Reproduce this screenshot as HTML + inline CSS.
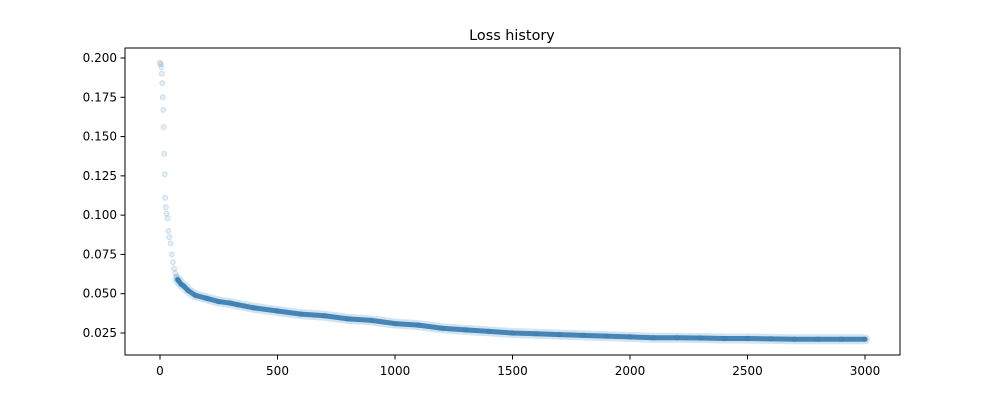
<!DOCTYPE html>
<html><head><meta charset="utf-8"><style>
body{margin:0;background:#fff;font-family:"Liberation Sans","DejaVu Sans",sans-serif}
text{font-family:"DejaVu Sans","Liberation Sans",sans-serif;font-size:12px;fill:#000}
</style></head><body>
<svg id="chart" width="1000" height="400" viewBox="0 0 1000 400" xmlns="http://www.w3.org/2000/svg">
<rect width="1000" height="400" fill="#fff"/>
<text x="512" y="40" text-anchor="middle" style="font-size:14.4px">Loss history</text>
<g id="marks"></g>
<g id="axes"></g>
<rect x="125" y="48" width="775" height="307" fill="none" stroke="#000" stroke-width="1"/>
</svg>
<script>
const iterations=[0,3,6,8,10,12,14,16,18,20,22,25,28,32,36,40,45,50,55,60,65,70,75,80,90,100,120,150,200,250,300,330,400,500,600,700,800,900,1000,1100,1200,1300,1400,1500,1600,1700,1800,1900,2000,2100,2200,2300,2400,2500,2600,2700,2800,2900,3000];
const losses=[0.197,0.196,0.194,0.190,0.184,0.175,0.167,0.156,0.139,0.126,0.111,0.105,0.101,0.098,0.090,0.086,0.082,0.075,0.070,0.066,0.063,0.061,0.059,0.058,0.056,0.055,0.052,0.049,0.047,0.045,0.044,0.043,0.041,0.039,0.037,0.036,0.034,0.033,0.031,0.030,0.028,0.027,0.026,0.025,0.0245,0.024,0.0235,0.023,0.0225,0.022,0.022,0.0218,0.0215,0.0215,0.0213,0.021,0.021,0.021,0.021];
const xTicks=[0,500,1000,1500,2000,2500,3000];
const yTicks=[0.025,0.050,0.075,0.100,0.125,0.150,0.175,0.200];
const NS="http://www.w3.org/2000/svg";
function xs(v){return 160+v*(705/3000);}
function ys(v){return 333-(v-0.025)*(275/0.175);}
const marks=document.getElementById('marks');
const axes=document.getElementById('axes');
let pts=[];
for(let i=0;i<iterations.length;i++){if(iterations[i]>=75)pts.push(xs(iterations[i])+','+ys(losses[i]));}
const halo=document.createElementNS(NS,'polyline');


halo.setAttribute('points',pts.join(' '));
halo.setAttribute('fill','none');halo.setAttribute('stroke','#1f77b4');halo.setAttribute('stroke-width','10');
halo.setAttribute('stroke-linejoin','round');halo.setAttribute('stroke-linecap','round');halo.setAttribute('opacity','0.2');
marks.appendChild(halo);
const band=document.createElementNS(NS,'polyline');


band.setAttribute('points',pts.join(' '));
band.setAttribute('fill','none');band.setAttribute('stroke','#2f74ab');band.setAttribute('stroke-width','5');
band.setAttribute('stroke-linejoin','round');band.setAttribute('stroke-linecap','round');band.setAttribute('opacity','0.85');
marks.appendChild(band);
for(let i=0;i<iterations.length;i++){
 const c=document.createElementNS(NS,'circle');
 
 
 c.setAttribute('cx',xs(iterations[i]));c.setAttribute('cy',ys(losses[i]));c.setAttribute('r',2.5);
 c.setAttribute('fill','#1f77b4');c.setAttribute('fill-opacity','0.12');c.setAttribute('stroke','#1f77b4');c.setAttribute('stroke-opacity','0.18');
 marks.appendChild(c);
}
xTicks.forEach(t=>{
 const l=document.createElementNS(NS,'line');
 
 
 l.setAttribute('x1',xs(t));l.setAttribute('x2',xs(t));l.setAttribute('y1',355);l.setAttribute('y2',359.5);l.setAttribute('stroke','#000');
 axes.appendChild(l);
 const tx=document.createElementNS(NS,'text');
 
 
 tx.setAttribute('x',xs(t));tx.setAttribute('y',375);tx.setAttribute('text-anchor','middle');tx.textContent=t;
 axes.appendChild(tx);
});
yTicks.forEach(t=>{
 const l=document.createElementNS(NS,'line');
 
 
 l.setAttribute('x1',120.5);l.setAttribute('x2',125);l.setAttribute('y1',ys(t));l.setAttribute('y2',ys(t));l.setAttribute('stroke','#000');
 axes.appendChild(l);
 const tx=document.createElementNS(NS,'text');
 
 
 tx.setAttribute('x',117);tx.setAttribute('y',ys(t)+4);tx.setAttribute('text-anchor','end');tx.textContent=t.toFixed(3);
 axes.appendChild(tx);
});
</script>
</body></html>
